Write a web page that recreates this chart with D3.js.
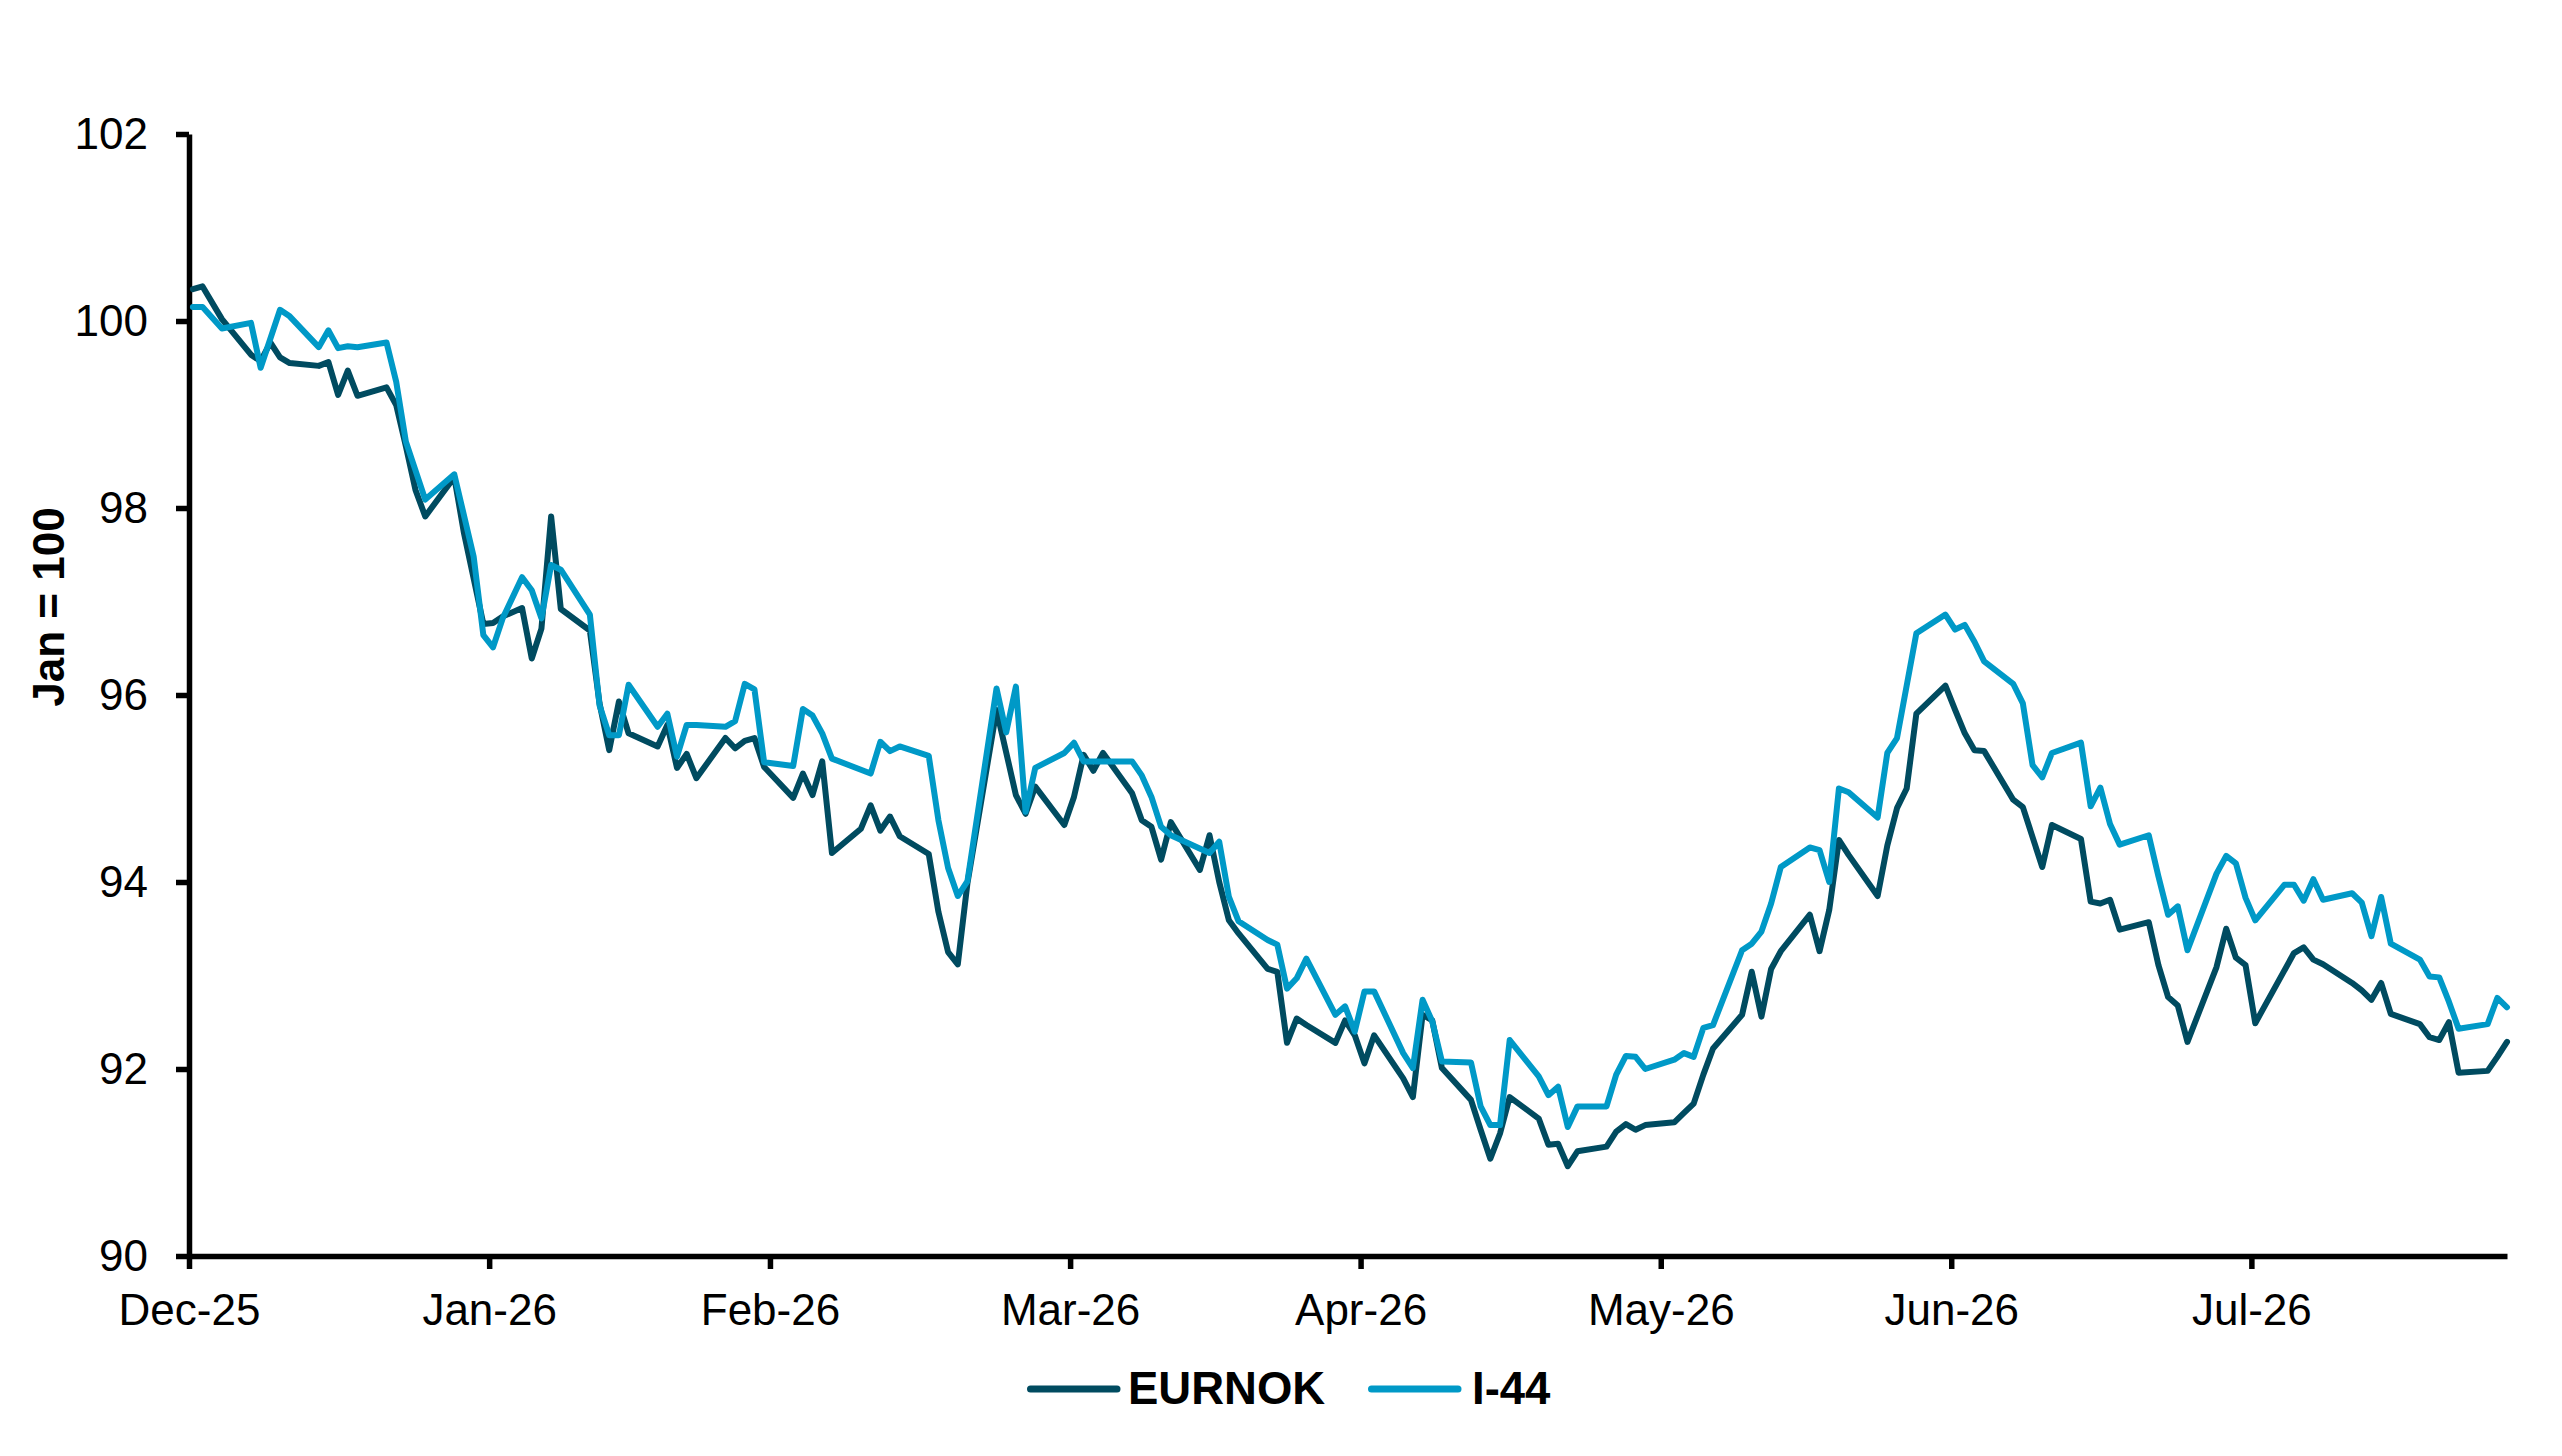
<!DOCTYPE html>
<html>
<head>
<meta charset="utf-8">
<script src="https://cdn.jsdelivr.net/npm/d3@7"></script>
<style>
  body { margin: 0; background: #fff; }
  svg { display: block; font-family: "Liberation Sans", Arial, sans-serif; }
</style>
</head>
<body>
<div id="chart"></div>
<script>
// day index inside the chart period (1 = first observation), weekends skipped
const eurnokDays = [1, 2, 4, 7, 8, 9, 10, 11, 14, 15, 16, 17, 18, 21, 22, 23, 24, 25, 28, 29,
    31, 32, 33, 35, 36, 37, 38, 39, 42, 43, 44, 45, 46, 49, 50, 51, 52, 53, 56, 57,
    58, 59, 60, 63, 64, 65, 66, 67, 70, 71, 72, 73, 74, 77, 78, 79, 80, 81, 84, 86,
    87, 88, 91, 92, 93, 94, 95, 98, 99, 100, 101, 102, 105, 106, 107, 108, 109, 112, 113, 114,
    115, 116, 119, 120, 121, 122, 123, 126, 127, 128, 129, 130, 133, 134, 135, 136, 137, 140, 141, 142,
    143, 144, 147, 148, 149, 150, 151, 154, 155, 156, 157, 158, 161, 162, 163, 164, 165, 168, 169, 170,
    171, 172, 175, 176, 177, 178, 179, 182, 183, 184, 185, 186, 189, 190, 191, 192, 193, 196, 197, 198,
    199, 200, 203, 204, 205, 206, 207, 210, 211, 212, 213, 214, 218, 219, 220, 221, 224, 225, 226, 227,
    228, 231, 232, 233, 234, 235, 238, 239, 240];
const eurnokValues = [100.34, 100.37, 100.02, 99.64, 99.57, 99.77, 99.61, 99.55, 99.52, 99.56, 99.21, 99.47, 99.20, 99.29, 99.10, 98.66, 98.19, 97.91, 98.33, 97.73,
    96.76, 96.77, 96.84, 96.93, 96.39, 96.71, 97.91, 96.92, 96.69, 95.91, 95.41, 95.93, 95.59, 95.45, 95.68, 95.22, 95.37, 95.11, 95.54, 95.43,
    95.51, 95.54, 95.23, 94.90, 95.16, 94.93, 95.29, 94.31, 94.57, 94.82, 94.55, 94.70, 94.49, 94.30, 93.68, 93.25, 93.12, 93.99, 95.84, 94.93,
    94.73, 95.02, 94.61, 94.91, 95.36, 95.19, 95.38, 94.95, 94.66, 94.59, 94.24, 94.64, 94.13, 94.50, 94.00, 93.59, 93.45, 93.07, 93.04, 92.28,
    92.54, 92.47, 92.28, 92.52, 92.36, 92.06, 92.36, 91.90, 91.70, 92.58, 92.52, 92.01, 91.67, 91.35, 91.04, 91.31, 91.70, 91.47, 91.19, 91.20,
    90.96, 91.12, 91.17, 91.33, 91.41, 91.35, 91.40, 91.43, 91.53, 91.63, 91.94, 92.22, 92.58, 93.04, 92.56, 93.07, 93.26, 93.65, 93.26, 93.70,
    94.45, 94.29, 93.85, 94.39, 94.79, 95.00, 95.80, 96.10, 95.84, 95.59, 95.41, 95.40, 94.88, 94.80, 94.48, 94.16, 94.61, 94.46, 93.79, 93.77,
    93.81, 93.49, 93.57, 93.11, 92.77, 92.68, 92.29, 93.09, 93.50, 93.19, 93.11, 92.49, 93.24, 93.30, 93.17, 93.12, 92.92, 92.84, 92.74, 92.92,
    92.59, 92.48, 92.34, 92.31, 92.50, 91.96, 91.98, 92.13, 92.29];

const i44Days = [1, 2, 4, 7, 8, 10, 11, 14, 15, 16, 17, 18, 21, 22, 23, 25, 28, 30, 31, 32,
    33, 35, 36, 37, 38, 39, 42, 43, 44, 45, 46, 49, 50, 51, 52, 53, 56, 57, 58, 59,
    60, 63, 64, 65, 66, 67, 71, 72, 73, 74, 77, 78, 79, 80, 81, 84, 85, 86, 87, 88,
    91, 92, 93, 98, 99, 100, 101, 102, 106, 107, 108, 109, 112, 113, 114, 115, 116, 119, 120, 121,
    122, 123, 126, 127, 128, 129, 130, 133, 134, 135, 136, 137, 140, 141, 142, 143, 144, 147, 148, 149,
    150, 151, 154, 155, 156, 157, 158, 161, 162, 163, 164, 165, 168, 169, 170, 171, 172, 175, 176, 177,
    179, 182, 183, 184, 185, 186, 189, 190, 191, 192, 193, 196, 197, 198, 199, 200, 203, 204, 205, 206,
    207, 210, 211, 212, 213, 214, 217, 218, 219, 220, 221, 224, 225, 226, 227, 228, 231, 232, 233, 234,
    235, 238, 239, 240];
const i44Values = [100.15, 100.15, 99.92, 99.98, 99.50, 100.12, 100.05, 99.72, 99.90, 99.71, 99.73, 99.72, 99.77, 99.35, 98.71, 98.09, 98.36, 97.48, 96.64, 96.51,
    96.82, 97.26, 97.12, 96.82, 97.39, 97.34, 96.86, 95.89, 95.57, 95.57, 96.11, 95.66, 95.80, 95.34, 95.68, 95.68, 95.66, 95.72, 96.12, 96.06,
    95.28, 95.24, 95.85, 95.78, 95.59, 95.32, 95.16, 95.50, 95.40, 95.45, 95.35, 94.66, 94.15, 93.85, 94.01, 96.07, 95.60, 96.09, 94.75, 95.22,
    95.38, 95.49, 95.29, 95.29, 95.14, 94.91, 94.59, 94.50, 94.31, 94.43, 93.84, 93.58, 93.38, 93.33, 92.86, 92.97, 93.18, 92.58, 92.67, 92.40,
    92.83, 92.83, 92.17, 92.01, 92.74, 92.51, 92.08, 92.07, 91.60, 91.40, 91.40, 92.31, 91.92, 91.72, 91.81, 91.38, 91.60, 91.60, 91.94, 92.14,
    92.13, 92.00, 92.10, 92.17, 92.13, 92.44, 92.47, 93.27, 93.34, 93.47, 93.77, 94.16, 94.37, 94.34, 94.00, 95.00, 94.96, 94.69, 95.38, 95.54,
    96.66, 96.86, 96.70, 96.75, 96.57, 96.36, 96.12, 95.91, 95.25, 95.12, 95.38, 95.49, 94.81, 95.01, 94.62, 94.40, 94.50, 94.06, 93.65, 93.74,
    93.27, 94.09, 94.28, 94.20, 93.83, 93.59, 93.97, 93.97, 93.80, 94.03, 93.81, 93.88, 93.78, 93.42, 93.84, 93.34, 93.17, 92.99, 92.98, 92.72,
    92.43, 92.48, 92.76, 92.66];

// month ticks sit just before the first day of each month
const tickDays = [0.6, 31.6, 60.6, 91.6, 121.6, 152.6, 182.6, 213.6];
const tickLabels = ["Dec-25", "Jan-26", "Feb-26", "Mar-26", "Apr-26", "May-26", "Jun-26", "Jul-26"];
const yTicks = [90, 92, 94, 96, 98, 100, 102];

const seriesNames = ["EURNOK", "I-44"];
const seriesColors = ["#004b60", "#0099c7"];

function drawChart() {
    const W = 2562, H = 1456;
    const left = 189, right = 2507, top = 134, bottom = 1256;

    let svg = d3.select("#chart").
    append("svg").
    attr("width", W).
    attr("height", H);

    let xScale = d3.scaleLinear().
    domain([0.6, 240]).
    range([left, right]);

    let yScale = d3.scaleLinear().
    domain([90, 102]).
    range([bottom, top]);

    // y axis
    let yAxis = svg.append("g").
    attr("transform", "translate(" + left + ",0)").
    call(d3.axisLeft(yScale).
    tickValues(yTicks).
    tickSize(13).
    tickSizeOuter(0).
    tickPadding(28));

    // x axis
    let xAxis = svg.append("g").
    attr("transform", "translate(0," + bottom + ")").
    call(d3.axisBottom(xScale).
    tickValues(tickDays).
    tickFormat((d, i) => tickLabels[i]).
    tickSize(13).
    tickSizeOuter(0).
    tickPadding(25));

    [xAxis, yAxis].forEach(ax => {
        ax.select(".domain").attr("stroke", "#000").attr("stroke-width", 5.5);
        ax.selectAll(".tick line").attr("stroke", "#000").attr("stroke-width", 5.5);
        ax.selectAll(".tick text").
        attr("fill", "#000").
        style("font-family", '"Liberation Sans", Arial, sans-serif').
        style("font-size", "44px");
    });

    // y axis title
    svg.append("text").
    attr("transform", "translate(64,607) rotate(-90)").
    attr("text-anchor", "middle").
    style("font-size", "44px").
    style("font-weight", "bold").
    text("Jan = 100");

    let line = d3.line().
    x(d => xScale(d[0])).
    y(d => yScale(d[1]));

    let series = [
        d3.zip(eurnokDays, eurnokValues),
        d3.zip(i44Days, i44Values)
    ];

    series.forEach((pts, i) => {
        svg.append("path").
        datum(pts).
        attr("d", line).
        attr("fill", "none").
        attr("stroke", seriesColors[i]).
        attr("stroke-width", 6).
        attr("stroke-linejoin", "round").
        attr("stroke-linecap", "round");
    });

    // legend
    const legendX = [1027, 1368];
    let legend = svg.selectAll(".legend").
    data(seriesNames).
    enter().
    append("g").
    attr("class", "legend").
    attr("transform", (d, i) => "translate(" + legendX[i] + ",1389)");

    legend.append("line").
    attr("x1", 3.5).
    attr("x2", 90).
    attr("stroke", (d, i) => seriesColors[i]).
    attr("stroke-width", 7).
    attr("stroke-linecap", "round");

    legend.append("text").
    attr("x", (d, i) => i === 0 ? 101 : 104).
    attr("y", 15).
    style("font-size", "45.5px").
    style("font-weight", "bold").
    text(d => d);
}

drawChart();
</script>
</body>
</html>
